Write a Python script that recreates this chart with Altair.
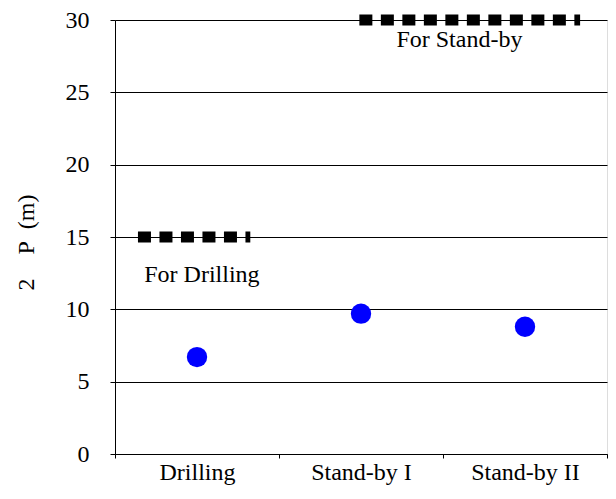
import altair as alt
import pandas as pd

# --- data ---
categories = ["Drilling", "Stand-by I", "Stand-by II"]
values = [6.7, 9.7, 8.8]

limit_labels = ["For Drilling", "For Stand-by"]
limit_values = [15, 30]
limit_x_start = [0.64, 1.99]
limit_x_end = [1.325, 3.336]
label_x = [1.03, 2.60]
label_y = [11.9, 28.1]

y_title = "2\u00a0\u00a0\u00a0\u00a0P\u00a0\u00a0(m)"

FONT = "Liberation Serif"

pts = pd.DataFrame({"cat": categories, "val": values})
lim = pd.DataFrame({"x1": limit_x_start, "x2": limit_x_end, "val": limit_values})
lab = pd.DataFrame({"x": label_x, "val": label_y, "text": limit_labels})

yscale = alt.Scale(domain=[0, 30], nice=False, zero=True)
xq = alt.Scale(domain=[0.5, 3.5], nice=False, zero=False)

yaxis = alt.Axis(values=[0, 5, 10, 15, 20, 25, 30], title=y_title,
                 grid=True, gridColor="black", gridWidth=1, gridOpacity=1,
                 tickSize=5, tickColor="black", domainColor="black",
                 labelPadding=21, labelFont=FONT, labelFontSize=24,
                 labelColor="black",
                 titleFont=FONT, titleFontSize=24, titleFontWeight="normal",
                 titleColor="black", titleAngle=270, titleX=-89, titleY=222,
                 titleAlign="center", titleBaseline="middle")

limits = alt.Chart(lim).mark_rule(color="black", strokeWidth=11,
                                  strokeDash=[13, 8.5], strokeCap="butt").encode(
    x=alt.X("x1:Q", scale=xq, axis=None),
    x2="x2:Q",
    y=alt.Y("val:Q", scale=yscale, axis=yaxis),
)

texts = alt.Chart(lab).mark_text(font=FONT, fontSize=24, color="black",
                                 align="center", baseline="alphabetic").encode(
    x=alt.X("x:Q", scale=xq, axis=None),
    y=alt.Y("val:Q", scale=yscale),
    text="text:N",
)

points = alt.Chart(pts).mark_circle(size=415, color="#0000FF", opacity=1).encode(
    x=alt.X("cat:N", sort=categories,
            scale=alt.Scale(paddingInner=0, paddingOuter=0),
            axis=alt.Axis(title=None, labelAngle=0, tickBand="extent", tickSize=4,
                          tickColor="black", domainColor="black", labelPadding=2,
                          labelFont=FONT, labelFontSize=24, labelColor="black",
                          grid=False)),
    y=alt.Y("val:Q", scale=yscale),
)

chart = alt.layer(limits, texts, points).resolve_scale(x="independent").properties(
    width=492, height=434,
    autosize=alt.AutoSizeParams(type="none"),
    padding={"left": 107, "top": 12, "right": 1, "bottom": 33},
).configure_view(stroke="black", strokeWidth=1).configure_axis(
    labelFont=FONT, titleFont=FONT, labelFontSize=24, titleFontSize=24,
    labelColor="black", titleColor="black", titleFontWeight="normal",
).configure_axisY(labelFont=FONT, titleFont=FONT).configure(background="white")

chart.save("out.html", embed_options={"renderer": "svg", "actions": False})
